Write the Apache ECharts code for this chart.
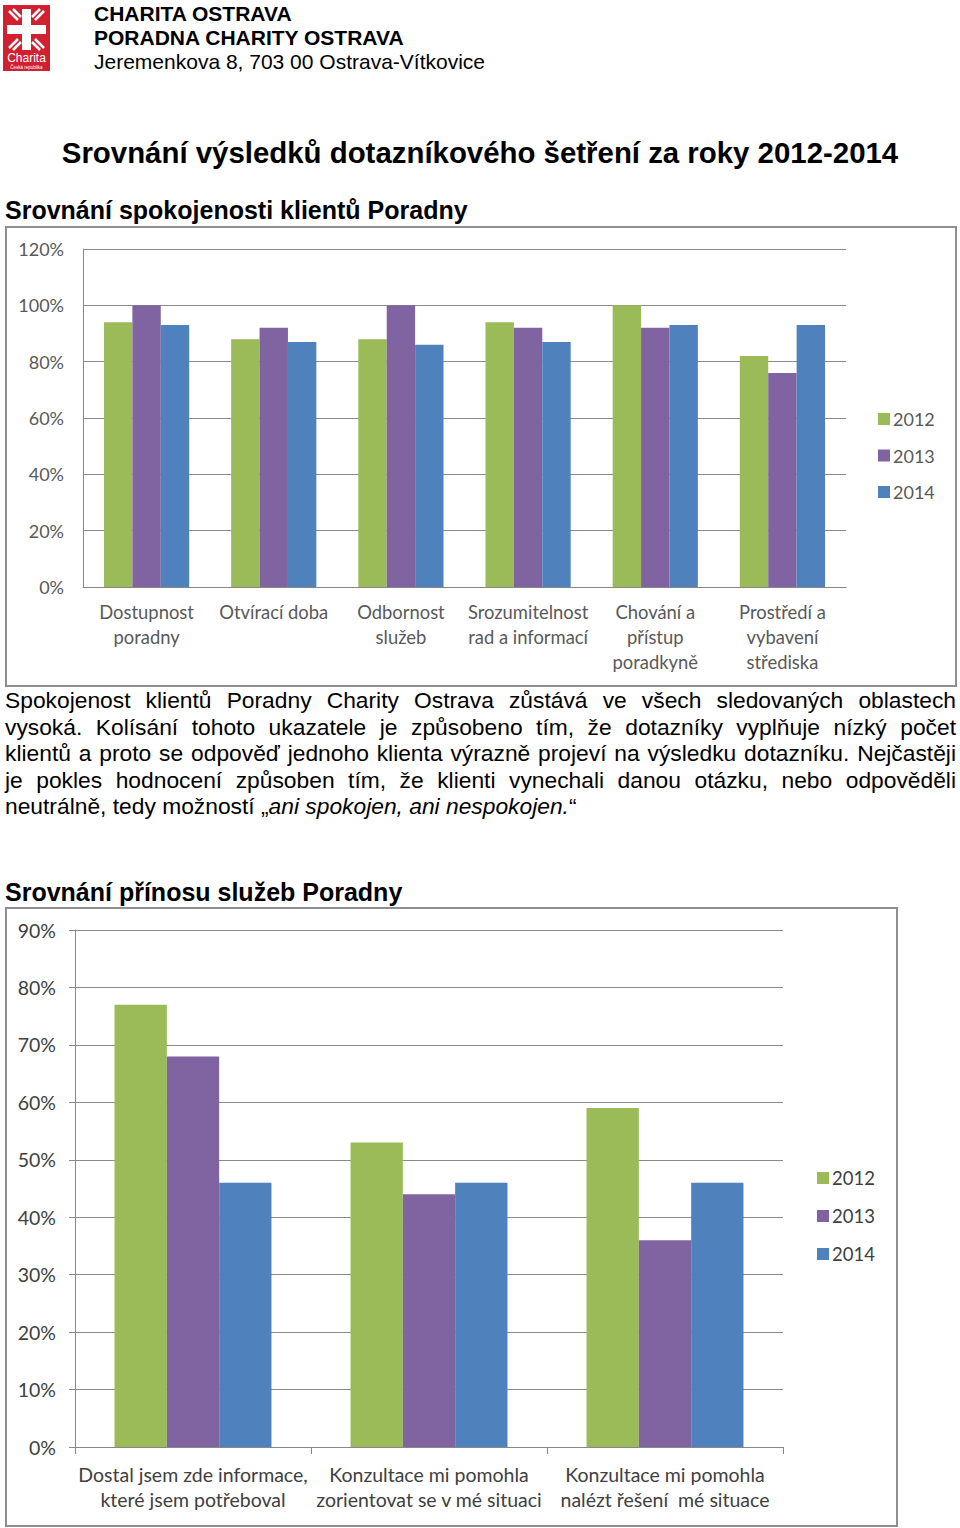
<!DOCTYPE html>
<html><head><meta charset="utf-8">
<script src="https://cdn.jsdelivr.net/npm/echarts@6/dist/echarts.min.js"></script>
<style>
html,body{margin:0;padding:0;background:#fff;}
body{width:960px;height:1528px;position:relative;overflow:hidden;font-family:"Liberation Sans",Arial,sans-serif;color:#000;}
.abs{position:absolute;}
.hdr{left:94px;font-size:21px;line-height:24px;white-space:nowrap;}
.b{font-weight:bold;}
.para{left:5px;width:951px;font-size:22.8px;line-height:26.5px;}
.para div{text-align:justify;text-align-last:justify;white-space:nowrap;}
.para div.last{text-align-last:left;}
.frame{border:2px solid #8f8f8f;box-sizing:border-box;pointer-events:none;}
</style></head>
<body>
<svg class="abs" style="left:3px;top:5px" width="47" height="66" viewBox="0 0 47 66">
  <rect x="0" y="0" width="47" height="66" fill="#d1202f"/>
  <rect x="19" y="4" width="9" height="41" fill="#fff"/>
  <rect x="4" y="20" width="39" height="9" fill="#fff"/>
  <path d="M6 6 l9 9 M10 4 l8 8 M41 6 l-9 9 M37 4 l-8 8 M6 43 l9 -9 M10 45 l8 -8 M41 43 l-9 -9 M37 45 l-8 -8" stroke="#fff" stroke-width="2.5" fill="none"/>
  <text x="23.5" y="57" font-size="12" fill="#fff" text-anchor="middle" font-family="Liberation Sans, Arial">Charita</text>
  <text x="23.5" y="63.5" font-size="4.5" fill="#fff" text-anchor="middle" font-family="Liberation Sans, Arial">Česká republika</text>
</svg>
<div class="abs hdr b" style="top:2px">CHARITA OSTRAVA</div>
<div class="abs hdr b" style="top:26px">PORADNA CHARITY OSTRAVA</div>
<div class="abs hdr" style="top:50px">Jeremenkova 8, 703 00 Ostrava-Vítkovice</div>
<div class="abs b" style="left:0;width:960px;text-align:center;top:136px;font-size:29.4px;line-height:34px;white-space:nowrap;">Srovnání výsledků dotazníkového šetření za roky 2012-2014</div>
<div class="abs b" style="left:5px;top:196px;font-size:25px;line-height:28px;white-space:nowrap;">Srovnání spokojenosti klientů Poradny</div>
<div id="c1" class="abs" style="left:0;top:226px;width:960px;height:462px;"></div>
<div class="abs frame" style="left:5px;top:226px;width:952px;height:461px;"></div>
<div class="abs para" style="top:687px">
<div>Spokojenost klientů Poradny Charity Ostrava zůstává ve všech sledovaných oblastech</div>
<div>vysoká. Kolísání tohoto ukazatele je způsobeno tím, že dotazníky vyplňuje nízký počet</div>
<div>klientů a proto se odpověď jednoho klienta výrazně projeví na výsledku dotazníku. Nejčastěji</div>
<div>je pokles hodnocení způsoben tím, že klienti vynechali danou otázku, nebo odpověděli</div>
<div class="last">neutrálně, tedy možností „<i>ani spokojen, ani nespokojen.</i>“</div>
</div>
<div class="abs b" style="left:5px;top:878px;font-size:25px;line-height:28px;white-space:nowrap;">Srovnání přínosu služeb Poradny</div>
<div id="c2" class="abs" style="left:0;top:907px;width:960px;height:621px;"></div>
<div class="abs frame" style="left:5px;top:907px;width:893px;height:620px;"></div>
<script>
// ---- data ----
const years = ['2012', '2013', '2014'];
const cats1 = ['Dostupnost\nporadny', 'Otvírací doba', 'Odbornost\nslužeb', 'Srozumitelnost\nrad a informací', 'Chování a\npřístup\nporadkyně', 'Prostředí a\nvybavení\nstřediska'];
const sat2012 = [94, 88, 88, 94, 100, 82];
const sat2013 = [100, 92, 100, 92, 92, 76];
const sat2014 = [93, 87, 86, 87, 93, 93];
const cats2 = ['Dostal jsem zde informace,\nkteré jsem potřeboval', 'Konzultace mi pomohla\nzorientovat se v mé situaci', 'Konzultace mi pomohla\nnalézt řešení  mé situace'];
const ben2012 = [77, 53, 59];
const ben2013 = [68, 44, 36];
const ben2014 = [46, 46, 46];
const yAxis1 = {min: 0, max: 120, interval: 20};
const yAxis2 = {min: 0, max: 90, interval: 10};
const colors = ['#9BBB59', '#8064A2', '#4F81BD'];
// ---- charts ----
const FONT = 'Lato';
function build(el, cats, series, yax, o) {
  const ch = echarts.init(el, null, {renderer: 'svg'});
  ch.setOption({
    animation: false,
    color: colors,
    grid: {left: o.left, right: o.right, top: o.top, height: o.h, containLabel: false},
    legend: {
      orient: 'vertical', left: o.legLeft, top: o.legTop, padding: 0,
      itemWidth: 12, itemHeight: 12, itemGap: o.legGap,
      icon: 'rect',
      textStyle: {fontFamily: FONT, fontSize: o.lfs, color: o.tc, lineHeight: 20, padding: [0, 0, 0, -2]},
      data: years
    },
    xAxis: {
      type: 'category', data: cats,
      axisLine: {lineStyle: {color: '#878787', width: 1}},
      axisTick: {show: o.xTick, length: 7, lineStyle: {color: '#878787'}},
      axisLabel: {fontFamily: FONT, fontSize: o.xfs, color: o.tc, lineHeight: 25, margin: o.xMargin, interval: 0}
    },
    yAxis: {
      type: 'value', min: yax.min, max: yax.max, interval: yax.interval,
      axisLine: {show: true, lineStyle: {color: '#878787', width: 1}},
      axisTick: {show: o.yTick, length: 6, lineStyle: {color: '#878787'}},
      splitLine: {lineStyle: {color: '#8a8a8a', width: 1}},
      axisLabel: {fontFamily: FONT, fontSize: o.yfs, color: o.tc, margin: o.yMargin, formatter: '{value}%'}
    },
    series: series.map((d, i) => ({
      name: years[i], type: 'bar', data: d,
      barGap: '0%', barCategoryGap: o.gap
    }))
  });
}
build(document.getElementById('c1'), cats1, [sat2012, sat2013, sat2014], yAxis1,
  {left: 83, right: 114, top: 23, h: 338, xfs: 18.4, yfs: 18, lfs: 18, tc: '#595959', legLeft: 878, legTop: 183, legGap: 16.5,
   xTick: false, yTick: false, xMargin: 12, yMargin: 19, gap: '33%'});
build(document.getElementById('c2'), cats2, [ben2012, ben2013, ben2014], yAxis2,
  {left: 75, right: 177, top: 23, h: 517, xfs: 19.5, yfs: 19.5, lfs: 18.5, tc: '#404040', legLeft: 817, legTop: 1178 - 907 - 10, legGap: 18,
   xTick: true, yTick: true, xMargin: 15, yMargin: 19, gap: '33.5%'});
</script>
</body></html>
